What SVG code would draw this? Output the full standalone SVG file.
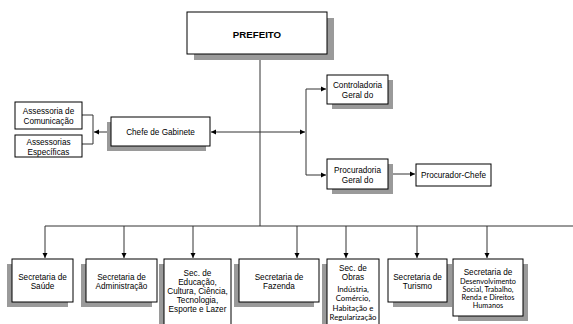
<svg xmlns="http://www.w3.org/2000/svg" width="573" height="324" viewBox="0 0 573 324">
<defs>
<style>
.box{fill:#fff;stroke:#000;stroke-width:1}
.sh{fill:#9a9a9a}
.t{font-family:"Liberation Sans",Arial,sans-serif;font-size:8.2px;fill:#000;text-anchor:middle}
.s{font-family:Lato,"Open Sans",sans-serif;font-size:7.8px;fill:#000;text-anchor:middle}
.s2{font-family:Lato,"Open Sans",sans-serif;font-size:7.3px;fill:#000;text-anchor:middle}
.b{font-family:"Liberation Sans",Arial,sans-serif;font-size:9.7px;font-weight:bold;fill:#000;text-anchor:middle}
.ln{fill:none;stroke:#333;stroke-width:1}
</style>
<marker id="ah" markerWidth="6" markerHeight="6" refX="5" refY="3" orient="auto-start-reverse" markerUnits="userSpaceOnUse">
<path d="M0,0.5 L5,3 L0,5.5 Z" fill="#000"/>
</marker>
</defs>
<rect width="573" height="324" fill="#fff"/>

<g id="connectors">
<path class="ln" d="M260,54 V226"/>
<path class="ln" d="M45,226 H573"/>
<path class="ln" d="M45,226 V258" marker-end="url(#ah)"/>
<path class="ln" d="M124,226 V258" marker-end="url(#ah)"/>
<path class="ln" d="M193,226 V258" marker-end="url(#ah)"/>
<path class="ln" d="M297,226 V258" marker-end="url(#ah)"/>
<path class="ln" d="M346,226 V258" marker-end="url(#ah)"/>
<path class="ln" d="M417,226 V258" marker-end="url(#ah)"/>
<path class="ln" d="M487,226 V258" marker-end="url(#ah)"/>
<path class="ln" d="M211,132 H305" marker-start="url(#ah)" marker-end="url(#ah)"/>
<path class="ln" d="M306,175 V89 H326" marker-end="url(#ah)"/>
<path class="ln" d="M306,175 H326" marker-end="url(#ah)"/>
<path class="ln" d="M389,174 H415" marker-end="url(#ah)"/>
<path class="ln" d="M111,132 H94" marker-end="url(#ah)"/>
<path class="ln" d="M82,115 H93 V144 H82"/>
</g>

<g id="prefeito">
<rect class="sh" x="194" y="18" width="140" height="42"/>
<rect class="box" x="187" y="12" width="140" height="42"/>
<text class="b" x="257" y="38">PREFEITO</text>
</g>

<g id="chefe">
<rect class="sh" x="107" y="122" width="99" height="29"/>
<rect class="box" x="111" y="117" width="99" height="29"/>
<text class="t" x="160.5" y="135">Chefe de Gabinete</text>
</g>

<g id="assessoria-comunicacao">
<rect class="box" x="15" y="102" width="67" height="27"/>
<text class="t" x="48.5" y="114">Assessoria de</text>
<text class="t" x="48.5" y="124">Comunicação</text>
</g>

<g id="assessorias-especificas">
<rect class="box" x="15" y="135" width="67" height="22"/>
<text class="t" x="48.5" y="145">Assessorias</text>
<text class="t" x="48.5" y="155">Específicas</text>
</g>

<g id="controladoria">
<rect class="sh" x="332" y="80" width="61" height="29"/>
<rect class="box" x="327" y="75" width="61" height="29"/>
<text class="t" x="357.5" y="88">Controladoria</text>
<text class="t" x="357.5" y="98">Geral do</text>
</g>

<g id="procuradoria">
<rect class="sh" x="332" y="164" width="61" height="30"/>
<rect class="box" x="327" y="159" width="61" height="30"/>
<text class="t" x="357.5" y="173">Procuradoria</text>
<text class="t" x="357.5" y="183">Geral do</text>
</g>

<g id="procurador-chefe">
<rect class="box" x="416" y="164" width="75" height="22"/>
<text class="t" x="453.5" y="178">Procurador-Chefe</text>
</g>

<g id="saude">
<rect class="sh" x="7" y="264" width="61" height="43"/>
<rect class="box" x="12" y="259" width="61" height="43"/>
<text class="t" x="42.5" y="280">Secretaria de</text>
<text class="t" x="42.5" y="289">Saúde</text>
</g>

<g id="administracao">
<rect class="sh" x="81" y="264" width="71" height="43"/>
<rect class="box" x="86" y="259" width="71" height="43"/>
<text class="t" x="121.5" y="280">Secretaria de</text>
<text class="t" x="121.5" y="289">Administração</text>
</g>

<g id="educacao">
<rect class="sh" x="159" y="264" width="67" height="70"/>
<rect class="box" x="164" y="259" width="67" height="70"/>
<text class="t" x="197.5" y="276">Sec. de</text>
<text class="t" x="197.5" y="285">Educação,</text>
<text class="t" x="197.5" y="294">Cultura, Ciência,</text>
<text class="t" x="197.5" y="303">Tecnologia,</text>
<text class="t" x="197.5" y="312">Esporte e Lazer</text>
</g>

<g id="fazenda">
<rect class="sh" x="234" y="264" width="80" height="43"/>
<rect class="box" x="239" y="259" width="80" height="43"/>
<text class="t" x="279" y="280">Secretaria de</text>
<text class="t" x="279" y="289">Fazenda</text>
</g>

<g id="obras">
<rect class="sh" x="322" y="264" width="52" height="70"/>
<rect class="box" x="327" y="259" width="52" height="70"/>
<text class="t" x="353" y="271">Sec. de</text>
<text class="t" x="353" y="280">Obras</text>
<text class="s" x="353" y="291.5">Indústria,</text>
<text class="s" x="353" y="301">Comércio,</text>
<text class="s" x="353" y="310.5">Habitação e</text>
<text class="s" x="353" y="320">Regularização</text>
</g>

<g id="turismo">
<rect class="sh" x="393" y="264" width="59" height="43"/>
<rect class="box" x="388" y="259" width="59" height="43"/>
<text class="t" x="417.5" y="280">Secretaria de</text>
<text class="t" x="417.5" y="289">Turismo</text>
</g>

<g id="desenvolvimento">
<rect class="sh" x="458" y="264" width="70" height="57"/>
<rect class="box" x="453" y="259" width="70" height="57"/>
<text class="t" x="488" y="275">Secretaria de</text>
<text class="s2" x="488" y="283.5">Desenvolvimento</text>
<text class="s2" x="488" y="291.5">Social, Trabalho,</text>
<text class="s2" x="488" y="299.5">Renda e Direitos</text>
<text class="s2" x="488" y="307.5">Humanos</text>
</g>
</svg>
